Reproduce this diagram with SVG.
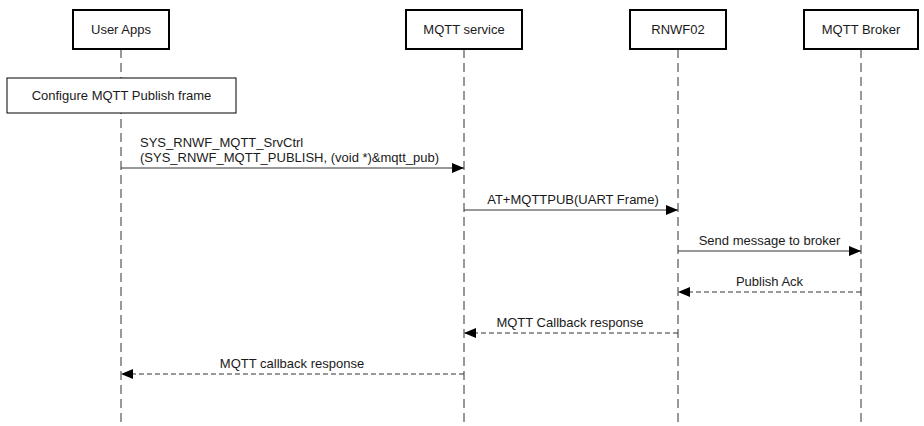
<svg xmlns="http://www.w3.org/2000/svg" width="924" height="426" viewBox="0 0 924 426">
  <style>
    .actor { fill: #ffffff; stroke: #000000; stroke-width: 2; }
    .life { stroke: #333333; stroke-width: 1; stroke-dasharray: 9 5; fill: none; }
    .box { fill: #ffffff; stroke: #000000; stroke-width: 1; }
    .msg { stroke: #333333; stroke-width: 1; fill: none; marker-end: url(#arrow); }
    .ret { stroke: #333333; stroke-width: 1; fill: none; stroke-dasharray: 5 3; marker-end: url(#arrow); }
    text { font-family: "Liberation Sans", Arial, sans-serif; font-size: 13px; fill: #1a1a1a; }
    .c { text-anchor: middle; }
  </style>
  <defs>
    <marker id="arrow" viewBox="0 0 12 10" refX="12" refY="5" markerWidth="12" markerHeight="10" markerUnits="userSpaceOnUse" orient="auto">
      <path d="M0,0 L12,5 L0,10 z" fill="#000000"/>
    </marker>
  </defs>
  <rect width="924" height="426" fill="#ffffff"/>

  <g id="lifelines">
    <line class="life" x1="121" y1="49" x2="121" y2="426"/>
    <line class="life" x1="464" y1="49" x2="464" y2="426"/>
    <line class="life" x1="678" y1="49" x2="678" y2="426"/>
    <line class="life" x1="861" y1="49" x2="861" y2="426"/>
  </g>

  <g id="user-apps">
    <rect class="actor" x="73" y="10" width="96" height="39"/>
    <text class="c" x="121" y="34">User Apps</text>
  </g>
  <g id="mqtt-service">
    <rect class="actor" x="406" y="10" width="116" height="39"/>
    <text class="c" x="464" y="34">MQTT service</text>
  </g>
  <g id="rnwf02">
    <rect class="actor" x="630" y="10" width="96" height="39"/>
    <text class="c" x="678" y="34">RNWF02</text>
  </g>
  <g id="mqtt-broker">
    <rect class="actor" x="804" y="10" width="114" height="39"/>
    <text class="c" x="861" y="34">MQTT Broker</text>
  </g>

  <g id="configure">
    <rect class="box" x="7" y="78" width="229" height="35"/>
    <text class="c" x="121.5" y="100">Configure MQTT Publish frame</text>
  </g>

  <g id="connectors">
    <line class="msg" x1="121" y1="168" x2="464" y2="168"/>
    <text x="140" y="147">SYS_RNWF_MQTT_SrvCtrl</text>
    <text x="140" y="162">(SYS_RNWF_MQTT_PUBLISH, (void *)&amp;mqtt_pub)</text>

    <line class="msg" x1="464" y1="210" x2="678" y2="210"/>
    <text class="c" x="573" y="204">AT+MQTTPUB(UART Frame)</text>

    <line class="msg" x1="678" y1="251" x2="861" y2="251"/>
    <text class="c" x="769.5" y="245">Send message to broker</text>

    <line class="ret" x1="861" y1="292" x2="678" y2="292"/>
    <text class="c" x="769.5" y="286">Publish Ack</text>

    <line class="ret" x1="678" y1="333" x2="464" y2="333"/>
    <text class="c" x="570" y="327">MQTT Callback response</text>

    <line class="ret" x1="464" y1="374" x2="121" y2="374"/>
    <text class="c" x="292" y="368">MQTT callback response</text>
  </g>
</svg>
